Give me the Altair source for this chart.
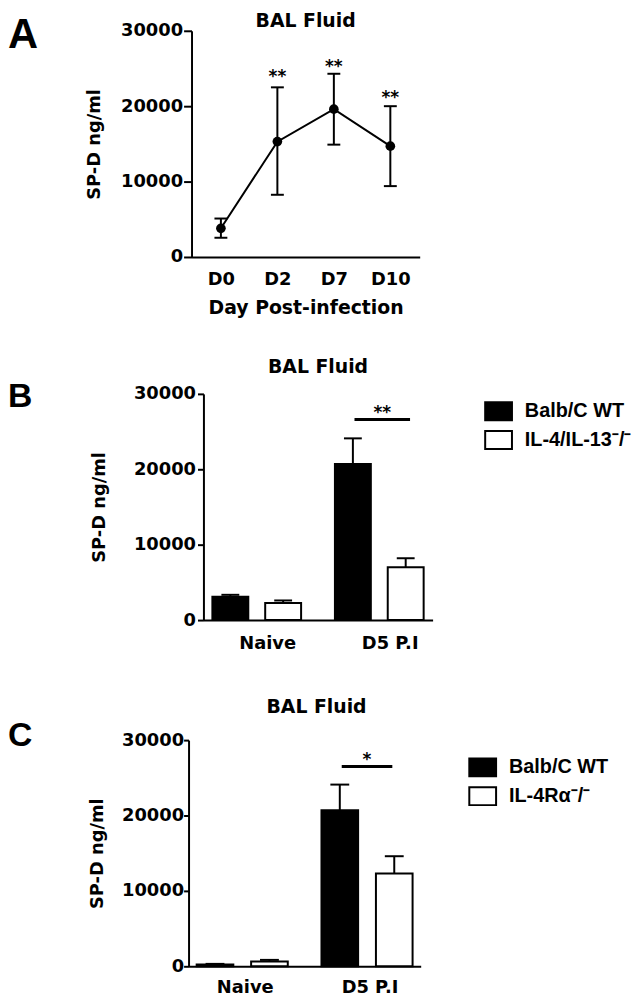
import altair as alt
import pandas as pd

FONT = "DejaVu Sans"
LFONT = "Liberation Sans"

panel_letters = ["A", "B", "C"]
panel_title = "BAL Fluid"
y_title = "SP-D ng/ml"
y_ticks = [0, 10000, 20000, 30000]

# ---- Panel A: time course ----
days = ["D0", "D2", "D7", "D10"]
a_mean = [3800, 15300, 19600, 14700]
a_low = [2550, 8250, 14900, 9400]
a_high = [5100, 22500, 24300, 20000]
a_star = ["", "**", "**", "**"]
a_star_y = [0, 23900, 25200, 21100]
a_xtitle = "Day Post-infection"

# ---- Panel B ----
groups = ["Naive", "D5 P.I"]
b_strains = ["Balb/C WT", "IL-4/IL-13\u207b/\u207b"]
b_mean = [3100, 2250, 20700, 7000]
b_err = [3350, 2600, 24100, 8200]
b_sig_group = "D5 P.I"
b_sig_y = 26600
b_star = "**"
b_star_y = 27400

# ---- Panel C ----
c_strains = ["Balb/C WT", "IL-4R\u03b1\u207b/\u207b"]
c_mean = [250, 650, 20700, 12300]
c_err = [320, 850, 24100, 14600]
c_sig_group = "D5 P.I"
c_sig_y = 26500
c_star = "*"
c_star_y = 27300

fill_colors = ["black", "white"]

yscale = alt.Scale(domain=[0, 30000], nice=False)


def y_axis(tick_size, label_pad, title_pad):
    return alt.Axis(values=y_ticks, format="d", title=y_title, tickSize=tick_size,
                    labelPadding=label_pad, titlePadding=title_pad, grid=False)


def title_params(offset, dx=0):
    return alt.TitleParams(panel_title, font=FONT, fontSize=19, fontWeight="bold",
                           anchor="middle", frame="group", offset=offset,
                           baseline="bottom", color="black", dx=dx)


def spacer(letter, w, h, y, fs):
    return alt.Chart(pd.DataFrame({"t": [letter]})).mark_text(
        font=LFONT, fontSize=fs, fontWeight="bold", align="left",
        baseline="alphabetic", color="black"
    ).encode(text="t:N", x=alt.value(0), y=alt.value(y)).properties(width=w, height=h)


# ---------- Panel A ----------
dfA = pd.DataFrame({"day": days, "mean": a_mean, "low": a_low, "high": a_high,
                    "star": a_star, "star_y": a_star_y})
axA_y = y_axis(8, 1, 17)
axA_x = alt.Axis(title=a_xtitle, titleFontSize=19, ticks=False, tickSize=0, labelAngle=0,
                 labelPadding=14, titlePadding=10)
sxA = alt.Scale(type="point", domain=days, padding=0.52)


def XA():
    return alt.X("day:N", scale=sxA, axis=axA_x)


def YA(f):
    return alt.Y(f + ":Q", scale=yscale, axis=axA_y)


baseA = alt.Chart(dfA)
lineA = baseA.mark_line(color="black", strokeWidth=2).encode(x=XA(), y=YA("mean"))
ruleA = baseA.mark_rule(color="black", strokeWidth=2).encode(x=XA(), y=YA("low"), y2="high:Q")
capLoA = baseA.mark_tick(orient="horizontal", size=13, thickness=2, color="black", opacity=1).encode(x=XA(), y=YA("low"))
capHiA = baseA.mark_tick(orient="horizontal", size=13, thickness=2, color="black", opacity=1).encode(x=XA(), y=YA("high"))
ptsA = baseA.mark_circle(size=95, color="black", opacity=1).encode(x=XA(), y=YA("mean"))
starA = baseA.mark_text(font=FONT, fontSize=17, fontWeight="bold", baseline="middle", color="black").encode(
    x=XA(), y=YA("star_y"), text="star:N")

panelA = alt.layer(lineA, ruleA, capLoA, capHiA, ptsA, starA).properties(
    width=230, height=228, title=title_params(-28))


# ---------- Bar panels ----------
def bar_panel(strains, means, errs, sig_group, sig_y, star, star_y, width,
              pad_in, pad_out, off_pad, label_off, label_pad, ytick, ylabpad, ytitlepad,
              leg_x, leg_y, sig_len, cap_len, title_off, title_dx, sig_shift):
    df = pd.DataFrame({"group": [g for g in groups for _ in strains],
                       "strain": strains * len(groups), "mean": means, "err": errs})
    dfs = pd.DataFrame({"group": [sig_group], "sig": [sig_y], "star": [star], "star_y": [star_y]})
    axy = y_axis(ytick, ylabpad, ytitlepad)
    axx = alt.Axis(title=None, ticks=False, tickSize=0, labelAngle=0, labelPadding=label_pad,
                   labelOffset=label_off)
    sx = alt.Scale(domain=groups, paddingInner=pad_in, paddingOuter=pad_out)
    so = alt.Scale(domain=strains, paddingInner=off_pad, paddingOuter=0)

    def X():
        return alt.X("group:N", scale=sx, axis=axx)

    def XO():
        return alt.XOffset("strain:N", scale=so)

    def Y(f):
        return alt.Y(f + ":Q", scale=yscale, axis=axy)

    fill = alt.Fill("strain:N", scale=alt.Scale(domain=strains, range=fill_colors),
                    legend=alt.Legend(title=None, orient="none", legendX=leg_x, legendY=leg_y,
                                      symbolType="M-1,-0.67H1V0.67H-1Z", symbolSize=729,
                                      symbolStrokeColor="black", symbolStrokeWidth=2,
                                      symbolOpacity=1,
                                      labelFont=LFONT, labelFontSize=20, labelFontWeight="bold",
                                      labelColor="black", labelOffset=12, rowPadding=1,
                                      padding=0, labelLimit=300))
    base = alt.Chart(df)
    bars = base.mark_bar(stroke="black", strokeWidth=2, opacity=1).encode(
        x=X(), xOffset=XO(), y=Y("mean"), fill=fill)
    rule = base.mark_rule(color="black", strokeWidth=2).encode(
        x=X(), xOffset=XO(), y=Y("mean"), y2="err:Q")
    cap = base.mark_tick(orient="horizontal", size=cap_len, thickness=2, color="black", opacity=1).encode(
        x=X(), xOffset=XO(), y=Y("err"))
    sbase = alt.Chart(dfs)
    sig = sbase.mark_tick(orient="horizontal", size=sig_len, thickness=3, color="black", opacity=1,
                          xOffset=sig_shift).encode(x=X(), y=Y("sig"))
    st = sbase.mark_text(font=FONT, fontSize=17, fontWeight="bold", baseline="middle", color="black",
                         xOffset=sig_shift).encode(x=X(), y=Y("star_y"), text="star:N")
    return alt.layer(bars, rule, cap, sig, st).properties(
        width=width, height=228, title=title_params(title_off, title_dx))


panelB = bar_panel(b_strains, b_mean, b_err, b_sig_group, b_sig_y, b_star, b_star_y, 231,
                   0.276, 0.073, 0.32, 11, 15, 6, 2, 25, 283, 3, 56, 18, -10.5, 0, 3)
panelC = bar_panel(c_strains, c_mean, c_err, c_sig_group, c_sig_y, c_star, c_star_y, 234,
                   0.27, 0.065, 0.327, 3, 12, 5, 0, 15, 282, 13, 51, 19, -4.5, 12, 0)


def indep(ch):
    return ch.resolve_scale(fill="independent", xOffset="independent",
                            x="independent", y="independent").resolve_legend(fill="independent")


rowA = alt.hconcat(spacer(panel_letters[0], 78, 228, 17, 42), panelA, spacing=0)
rowB = indep(alt.hconcat(spacer(panel_letters[1], 83, 228, 13, 34), panelB, spacing=0))
rowC = indep(alt.hconcat(spacer(panel_letters[2], 81, 228, 6, 34), panelC, spacing=0))

inner = indep(alt.vconcat(rowB, rowC, spacing=45))
chart = indep(alt.vconcat(rowA, inner, spacing=40)).properties(
    padding=0, background="white"
).configure_view(stroke=None).configure_axis(
    domainColor="black", domainWidth=2, tickColor="black", tickWidth=2,
    labelColor="black", titleColor="black", labelFont=FONT, labelFontSize=18,
    labelFontWeight="bold", titleFont=FONT, titleFontSize=18, titleFontWeight="bold",
    grid=False
)

chart.save("out.html", embed_options={"renderer": "svg", "actions": False})
